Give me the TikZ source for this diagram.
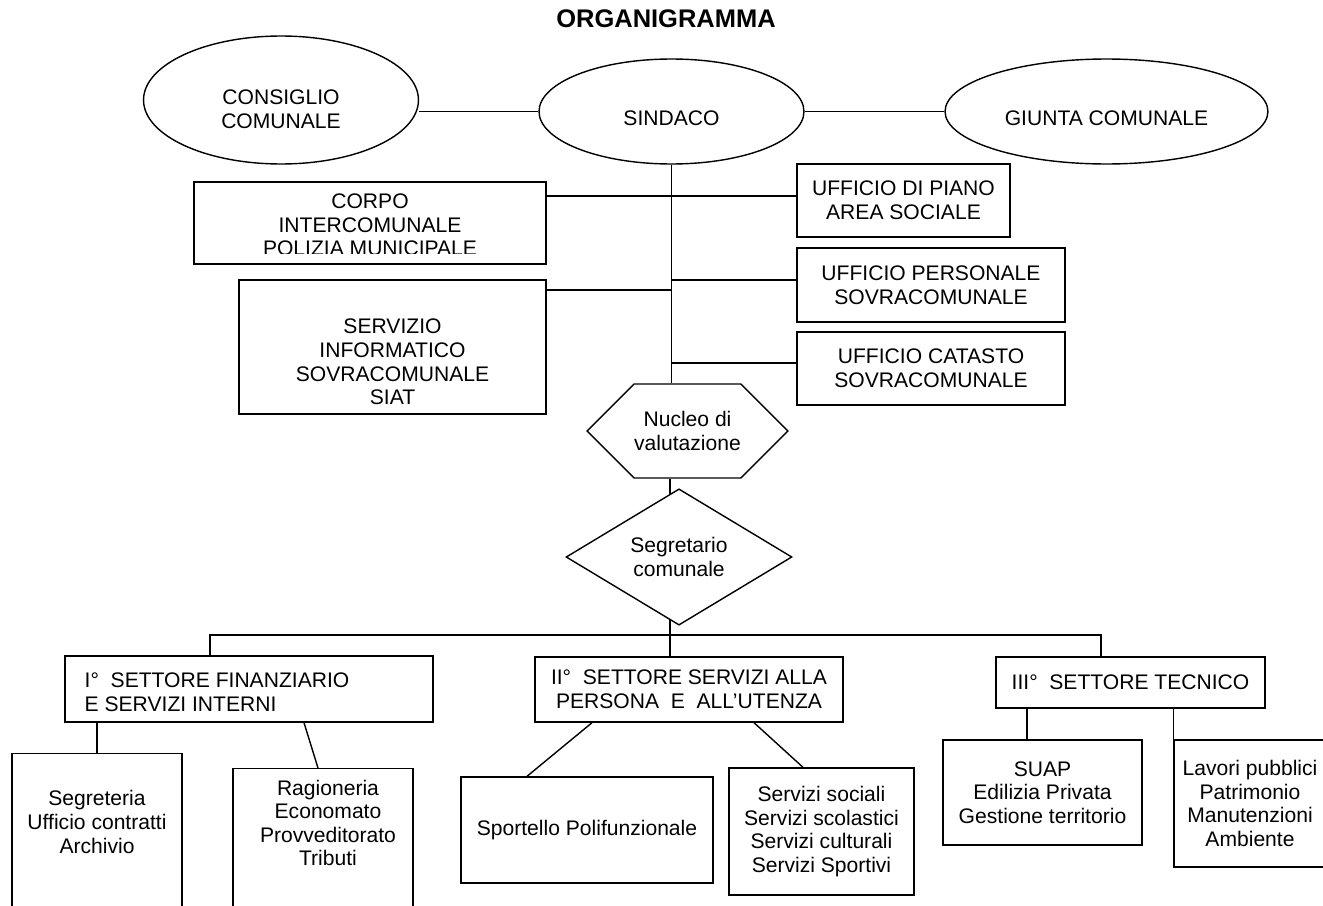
\documentclass[tikz,border=0pt]{standalone}
\usepackage{fontspec}
\setmainfont{Liberation Sans}
\usepackage{tikz}
\usetikzlibrary{calc,positioning,shapes.geometric,shapes.symbols}

\begin{document}
\begin{tikzpicture}[x=0.02cm,y=-0.02cm,thick,
  every node/.style={font=\fontsize{12}{13.4}\selectfont, align=center, inner sep=0pt},
  ovale/.style={draw, ellipse, text depth=0pt},
  riquadro/.style={draw, rectangle},
  esagono/.style={draw, signal, signal to=east and west},
  rombo/.style={draw, diamond}]
\useasboundingbox (0,0) rectangle (1323,906);
\node[font=\bfseries\fontsize{14.5}{17}\selectfont] (titolo) at (666,19) {ORGANIGRAMMA};

\node[ovale, minimum width=5.5cm, minimum height=2.56cm, text height=32pt] (consiglio) at (281,100) {CONSIGLIO\\COMUNALE};
\node[ovale, minimum width=5.3cm, minimum height=2.1cm, text height=15.6pt] (sindaco) at (671.5,111.5) {SINDACO};
\node[ovale, minimum width=6.46cm, minimum height=2.1cm, text height=15.6pt] (giunta) at (1106.5,111.5) {GIUNTA COMUNALE};
\draw (sindaco.west) -- (sindaco.west -| consiglio.east);
\draw (sindaco) -- (giunta);

\node[riquadro, minimum width=7.04cm, minimum height=1.64cm] (corpo) at (370,223) {};
\begin{scope}
\clip (corpo.north west) rectangle ($(corpo.south east)+(0,-11)$);
\node (corpotesto) at (370,225) {CORPO\\INTERCOMUNALE\\POLIZIA MUNICIPALE};
\end{scope}
\node[riquadro, minimum width=6.14cm, minimum height=2.68cm] (servizio) at (392.5,347) {};
\node (serviziotesto) at (392.5,362) {SERVIZIO\\INFORMATICO\\SOVRACOMUNALE\\SIAT};
\node[riquadro, minimum width=4.26cm, minimum height=1.46cm] (piano) at (903.5,200.5) {UFFICIO DI PIANO\\AREA SOCIALE};
\node[riquadro, minimum width=5.36cm, minimum height=1.48cm] (personale) at (931,285) {UFFICIO PERSONALE\\SOVRACOMUNALE};
\node[riquadro, minimum width=5.36cm, minimum height=1.46cm] (catasto) at (931,368.5) {UFFICIO CATASTO\\SOVRACOMUNALE};

\node[esagono, minimum width=3.7cm, minimum height=1.88cm] (nucleo) at (687.5,431) {Nucleo di\\valutazione};
\node[rombo, minimum width=4.52cm, minimum height=2.28cm] (segretario) at (679,557) {Segretario\\comunale};

\coordinate (t1) at (671,196);
\coordinate (t2) at (671,280);
\coordinate (t3) at (671,290);
\coordinate (t4) at (671,363);
\draw (sindaco.south) -- (sindaco.south |- nucleo.north);
\draw (corpo.east |- t1) -- (piano.west |- t1);
\draw (personale.west |- t2) -- (t2);
\draw (servizio.east |- t3) -- (t3);
\draw (catasto.west |- t4) -- (t4);
\draw (segretario.98) -- (segretario.98 |- nucleo.south);

\node[riquadro, minimum width=7.36cm, minimum height=1.32cm] (settore1) at (249,689) {};
\node[align=left, anchor=west] (settore1testo) at (84,692.5) {I°\ \ SETTORE FINANZIARIO\\E SERVIZI INTERNI};
\node[riquadro, minimum width=6.16cm, minimum height=1.3cm] (settore2) at (689,689.5) {II°\ \ SETTORE SERVIZI ALLA\\PERSONA\ \ E\ \ ALL’UTENZA};
\node[riquadro, minimum width=5.38cm, minimum height=1.02cm] (settore3) at (1130.5,682.5) {III°\ \ SETTORE TECNICO};

\coordinate (busL) at (210,635);
\coordinate (busR) at (1101,635);
\draw (segretario.-98) -- (segretario.-98 |- settore2.north);
\draw (busL |- settore1.north) -- (busL) -- (busR) -- (busR |- settore3.north);

\node[riquadro, anchor=north, minimum width=3.4cm, minimum height=4cm] (segreteria) at (97,753) {};
\node (segreteriatesto) at (97,822) {Segreteria\\Ufficio contratti\\Archivio};
\node[riquadro, anchor=north, minimum width=3.6cm, minimum height=4cm] (ragioneria) at (323,768) {};
\node (ragioneriatesto) at (328,823) {Ragioneria\\Economato\\Provveditorato\\Tributi};
\node[riquadro, minimum width=5.04cm, minimum height=2.12cm] (sportello) at (587,830) {Sportello Polifunzionale};
\node[riquadro, minimum width=3.7cm, minimum height=2.54cm] (servizi) at (821.5,831.5) {Servizi sociali\\Servizi scolastici\\Servizi culturali\\Servizi Sportivi};
\node[riquadro, minimum width=3.98cm, minimum height=2.1cm] (suap) at (1042.5,792.5) {SUAP\\Edilizia Privata\\Gestione territorio};
\node[riquadro, minimum width=3.04cm, minimum height=2.54cm] (lavori) at (1250,803.5) {Lavori pubblici\\Patrimonio\\Manutenzioni\\Ambiente};

\draw (segreteria.north) -- (segreteria.north |- settore1.south);
\draw ($(settore1.south)+(55,0)$) -- ($(ragioneria.north)+(-5,0)$);
\draw ($(settore2.south)+(-97,0)$) -- ($(sportello.north)+(-60,0)$);
\draw ($(settore2.south)+(65,0)$) -- ($(servizi.north)+(-18.5,0)$);
\draw ($(settore3.south)+(-103.5,0)$) -- ($(suap.north)+(-15.5,0)$);
\draw (lavori.north west) -- (lavori.north west |- settore3.south);
\end{tikzpicture}
\end{document}
